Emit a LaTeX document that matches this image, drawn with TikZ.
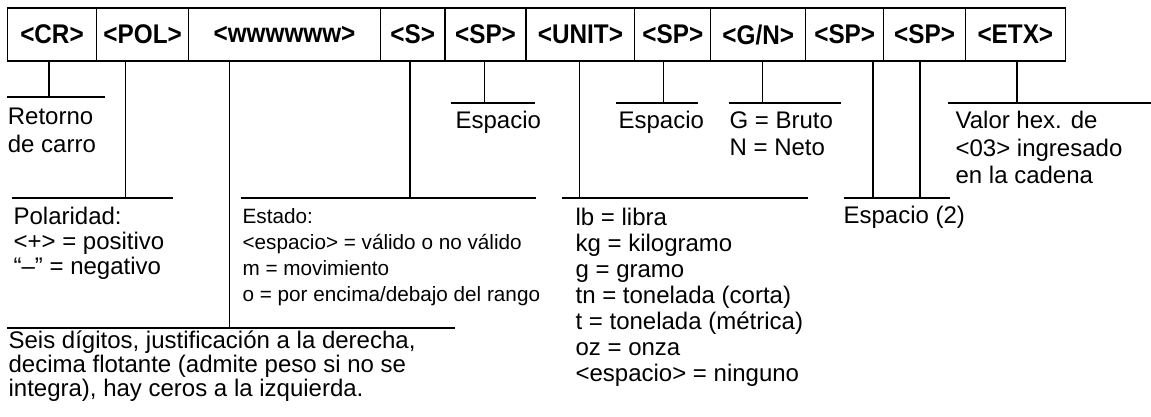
\documentclass[tikz,border=0pt]{standalone}
\usepackage{fontspec}
\setmainfont{Liberation Sans}
\newfontfamily\fieldfont[FakeStretch=0.9]{Liberation Sans}
\usetikzlibrary{positioning}

\begin{document}
\begin{tikzpicture}[x=1pt, y=-1pt, line width=1.2pt,
  field/.style={draw, minimum height=53pt, inner sep=0pt, font=\fieldfont\fontsize{27}{28}\selectfont\bfseries},
  note/.style={anchor=base west, inner sep=0pt, align=left, font=\fontsize{24}{26}\selectfont},
  small/.style={note, font=\fontsize{20.7}{26}\selectfont}
]
  \useasboundingbox (0,0) rectangle (1151,417);

  % the fields of the string
  \node[field, minimum width=89.2pt]  (cr)   at (52,34.5)     {<CR>};
  \node[field, minimum width=92.1pt]  (pol)  at (142.65,34.5) {<POL>};
  \node[field, minimum width=191.6pt] (wt)   at (284.5,34.5)  {<wwwwww>};
  \node[field, minimum width=64.7pt]  (st)   at (412.65,34.5) {<S>};
  \node[field, minimum width=81pt]    (spa)  at (485.5,34.5)  {<SP>};
  \node[field, minimum width=108.8pt] (unit) at (580.4,34.5)  {<UNIT>};
  \node[field, minimum width=76pt]    (spb)  at (672.8,34.5)  {<SP>};
  \node[field, minimum width=94.8pt]  (gn)   at (758.2,34.5)  {<G/N>};
  \node[field, minimum width=78.2pt]  (spc)  at (844.7,34.5)  {<SP>};
  \node[field, minimum width=81.5pt]  (spd)  at (924.55,34.5) {<SP>};
  \node[field, minimum width=100.1pt] (etx)  at (1015.35,34.5){<ETX>};

  % bars under the fields
  \coordinate (crL) at (6.7,97);    \coordinate (crR) at (104.5,97);  \coordinate (crT) at (49,97);
  \coordinate (polL) at (12,198);   \coordinate (polR) at (173,198);  \coordinate (polT) at (125.8,198);
  \coordinate (wtL) at (7,328);     \coordinate (wtR) at (455,328);   \coordinate (wtT) at (229.4,328);
  \coordinate (stL) at (240.5,198); \coordinate (stR) at (536,198);   \coordinate (stT) at (410,198);
  \coordinate (spaL) at (450.6,103); \coordinate (spaR) at (535.3,103); \coordinate (spaT) at (484.6,103);
  \coordinate (unitL) at (561.7,198); \coordinate (unitR) at (808,198); \coordinate (unitT) at (579.3,198);
  \coordinate (spbL) at (616.3,103); \coordinate (spbR) at (697.8,103); \coordinate (spbT) at (663.7,103);
  \coordinate (gnL) at (728.6,103); \coordinate (gnR) at (841,103);   \coordinate (gnT) at (762.7,103);
  \coordinate (spcL) at (844,198);  \coordinate (spcR) at (950,198);  \coordinate (spcT) at (873,198);
  \coordinate (spdT) at (920,198);
  \coordinate (etxL) at (948,103);  \coordinate (etxR) at (1151,103); \coordinate (etxT) at (1017,103);

  \draw[-] (crL) -- (crR);     \draw[-] (cr.south -| crT) -- (crT);
  \draw[-] (polL) -- (polR);   \draw[-] (pol.south -| polT) -- (polT);
  \draw[-] (wtL) -- (wtR);     \draw[-] (wt.south -| wtT) -- (wtT);
  \draw[-] (stL) -- (stR);     \draw[-] (st.south -| stT) -- (stT);
  \draw[-] (spaL) -- (spaR);   \draw[-] (spa.south -| spaT) -- (spaT);
  \draw[-] (unitL) -- (unitR); \draw[-] (unit.south -| unitT) -- (unitT);
  \draw[-] (spbL) -- (spbR);   \draw[-] (spb.south -| spbT) -- (spbT);
  \draw[-] (gnL) -- (gnR);     \draw[-] (gn.south -| gnT) -- (gnT);
  \draw[-] (spcL) -- (spcR);   \draw[-] (spc.south -| spcT) -- (spcT);
  \draw[-] (spd.south -| spdT) -- (spdT);
  \draw[-] (etxL) -- (etxR);   \draw[-] (etx.south -| etxT) -- (etxT);

  % descriptions (anchored at the baseline of their last line)
  \node[note] (crtxt) at (7.3,153) {Retorno\\[2.5pt]de carro};
  \node[note] (spatxt) at (455,128.5) {Espacio};
  \node[note] (spbtxt) at (618,128.5) {Espacio};
  \node[note] (gntxt) at (729,155) {G = Bruto\\[0.5pt]N = Neto};
  \node[note] (etxtxt) at (955,183.5) {Valor hex. de\\[1.5pt]<03> ingresado\\[1.5pt]en la cadena};
  \node[note] (poltxt) at (13,274.5) {Polaridad:\\[-1pt]<+> = positivo\\[-1pt]“–” = negativo};
  \node[small] (sttxt) at (242,301) {Estado:\\<espacio> = válido o no válido\\m = movimiento\\o = por encima/debajo del rango};
  \node[note] (unittxt) at (575,381) {lb = libra\\kg = kilogramo\\g = gramo\\tn = tonelada (corta)\\t = tonelada (métrica)\\oz = onza\\<espacio> = ninguno};
  \node[note] (spctxt) at (843,223.5) {Espacio (2)};
  \node[note] (wttxt) at (8,396) {Seis dígitos, justificación a la derecha,\\[-2pt]decima flotante (admite peso si no se\\[-2pt]integra), hay ceros a la izquierda.};
\end{tikzpicture}
\end{document}
